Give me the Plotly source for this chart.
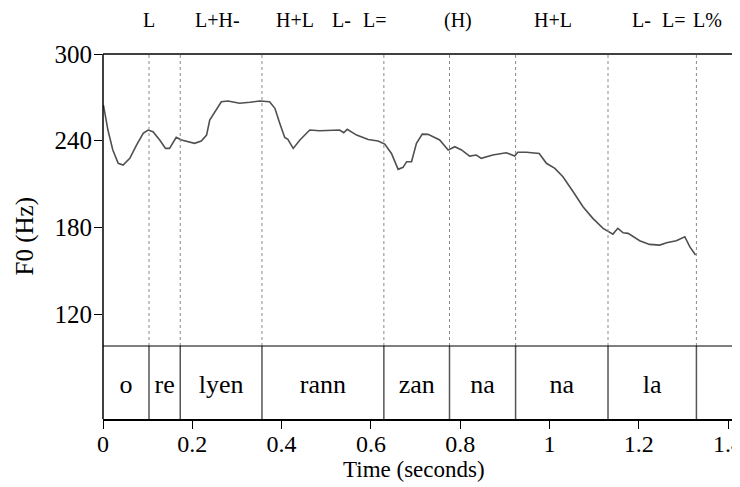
import plotly.graph_objects as go

# ---- data ----
pitch_t = [0.001, 0.011, 0.022, 0.034, 0.045, 0.060, 0.075, 0.090, 0.101, 0.112,
           0.127, 0.140, 0.149, 0.158, 0.164, 0.176, 0.190, 0.205, 0.220, 0.232,
           0.239, 0.250, 0.265, 0.280, 0.306, 0.329, 0.351, 0.373, 0.385, 0.396,
           0.407, 0.414, 0.426, 0.441, 0.463, 0.485, 0.515, 0.530, 0.539, 0.547,
           0.568, 0.594, 0.616, 0.631, 0.646, 0.661, 0.672, 0.680, 0.691, 0.702,
           0.715, 0.728, 0.754, 0.773, 0.788, 0.803, 0.821, 0.836, 0.847, 0.873,
           0.903, 0.922, 0.929, 0.948, 0.977, 0.993, 1.012, 1.030, 1.053, 1.075,
           1.097, 1.120, 1.142, 1.153, 1.165, 1.176, 1.202, 1.224, 1.247, 1.262,
           1.284, 1.303, 1.314, 1.327]
pitch_f0 = [264.7, 247.4, 233.6, 224.4, 223.2, 227.8, 237.0, 245.1, 247.4, 246.2,
            240.5, 234.7, 234.7, 239.3, 242.3, 240.5, 239.3, 238.2, 239.8, 243.9,
            254.3, 260.1, 267.0, 267.5, 265.9, 266.6, 267.5, 267.0, 262.4, 252.0,
            242.3, 240.9, 234.7, 240.5, 247.4, 246.9, 247.4, 247.4, 245.5, 247.9,
            243.9, 240.9, 239.8, 237.7, 231.2, 220.2, 221.6, 225.5, 225.5, 238.2,
            244.6, 244.4, 240.5, 233.6, 235.9, 233.6, 229.4, 230.1, 227.8, 230.1,
            231.7, 229.4, 232.0, 232.0, 231.2, 224.4, 220.9, 215.1, 204.7, 194.3,
            186.3, 179.4, 175.4, 179.4, 176.3, 175.9, 170.8, 168.3, 167.8, 169.4,
            170.8, 173.6, 166.7, 160.9]

# syllable tier
boundaries = [0.0, 0.103, 0.173, 0.356, 0.629, 0.776, 0.924, 1.131, 1.329]
syllables = ["o", "re", "lyen", "rann", "zan", "na", "na", "la"]

# tone labels (point tier drawn above the frame)
tone_t = [0.103, 0.257, 0.429, 0.535, 0.609, 0.794, 1.007, 1.207, 1.278, 1.354]
tone_labels = ["L", "L+H-", "H+L", "L-", "L=", "(H)", "H+L", "L-", "L=", "L%"]

y_ticks = [120, 180, 240, 300]
x_ticks = [0, 0.2, 0.4, 0.6, 0.8, 1.0, 1.2, 1.4]
x_ticklabels = ["0", "0.2", "0.4", "0.6", "0.8", "1", "1.2", "1.4"]

FONT = '"Liberation Serif", "Times New Roman", Times, serif'

fig = go.Figure()

fig.add_trace(go.Scatter(x=pitch_t, y=pitch_f0, mode="lines",
                         line=dict(color="#505050", width=1.6),
                         xaxis="x", yaxis="y", showlegend=False, hoverinfo="skip"))

mids = [(boundaries[i] + boundaries[i + 1]) / 2 for i in range(len(syllables))]
fig.add_trace(go.Scatter(x=mids, y=[0.45] * len(mids), mode="text", text=syllables,
                         textfont=dict(family=FONT, size=26, color="black"),
                         xaxis="x", yaxis="y2", showlegend=False, hoverinfo="skip"))

shapes = []
for b in boundaries[1:]:
    shapes.append(dict(type="line", xref="x", yref="y domain", x0=b, x1=b, y0=0, y1=1,
                       line=dict(color="#8a8a8a", width=1, dash="dot")))
    shapes.append(dict(type="line", xref="x", yref="y2 domain", x0=b, x1=b, y0=0, y1=1,
                       line=dict(color="#555555", width=1.5)))
# frame lines
shapes.append(dict(type="line", xref="paper", yref="paper", x0=0, x1=1, y0=1, y1=1,
                   line=dict(color="black", width=1.5)))
shapes.append(dict(type="line", xref="paper", yref="paper", x0=0, x1=1, y0=0.2, y1=0.2,
                   line=dict(color="black", width=1.2)))
shapes.append(dict(type="line", xref="paper", yref="paper", x0=0, x1=0, y0=0, y1=1,
                   line=dict(color="black", width=1.5)))

annotations = []
for t, lab in zip(tone_t, tone_labels):
    annotations.append(dict(x=t, y=1.092, xref="x", yref="paper", text=lab,
                            showarrow=False, xanchor="center", yanchor="middle",
                            font=dict(family=FONT, size=20, color="black")))
annotations.append(dict(x=-0.1225, y=0.5, xref="paper", yref="paper", text="F0 (Hz)",
                        textangle=-90, showarrow=False, xanchor="center", yanchor="middle",
                        font=dict(family=FONT, size=25, color="black")))
annotations.append(dict(x=(414 - 103) / 637, y=-0.1397, xref="paper", yref="paper",
                        text="Time (seconds)", showarrow=False, xanchor="center",
                        yanchor="middle", font=dict(family=FONT, size=23, color="black")))

# page body has an 8px default margin, so the figure is 8px smaller than the window
fig.update_layout(
    width=732, height=479,
    margin=dict(l=95, r=0, t=46, b=68, pad=0, autoexpand=False),
    paper_bgcolor="white", plot_bgcolor="white",
    xaxis=dict(range=[0, 1.4266], domain=[0, 1], anchor="y2", automargin=False,
               tickvals=x_ticks, ticktext=x_ticklabels, ticks="outside", ticklen=8,
               tickcolor="black", tickwidth=1, showline=True, linecolor="black", linewidth=1.5,
               showgrid=False, zeroline=False, ticklabelstandoff=-6,
               ticklabeloverflow="allow",
               tickfont=dict(family=FONT, size=24, color="black")),
    yaxis=dict(range=[98, 300], domain=[0.2, 1], anchor="x", automargin=False,
               tickvals=y_ticks, ticks="outside", ticklen=8, tickcolor="black", tickwidth=1,
               showline=False, showgrid=False, zeroline=False, ticklabelstandoff=-3,
               tickfont=dict(family=FONT, size=25, color="black")),
    yaxis2=dict(range=[0, 1], domain=[0, 0.2], anchor="x", showticklabels=False,
                automargin=False,
                ticks="", showline=False, showgrid=False, zeroline=False),
    shapes=shapes, annotations=annotations,
)

fig.write_html("out.html")
